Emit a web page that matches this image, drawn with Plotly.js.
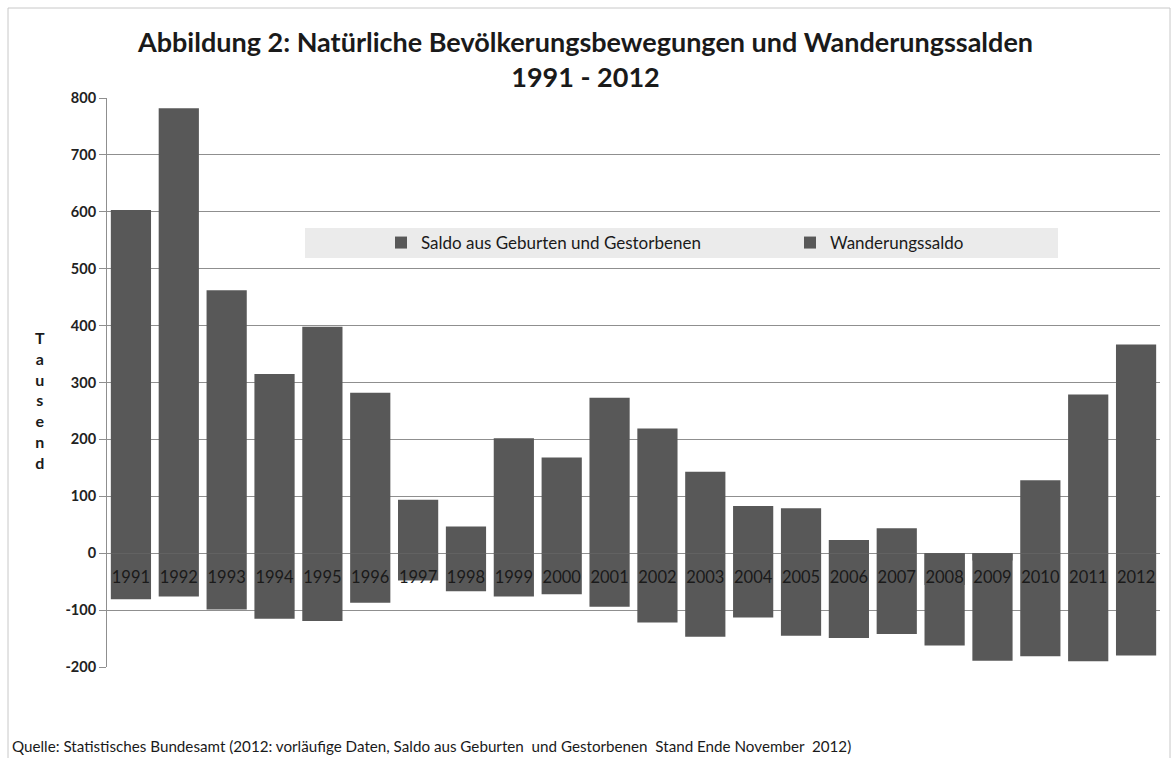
<!DOCTYPE html>
<html>
<head>
<meta charset="utf-8">
<script src="https://cdn.plot.ly/plotly-3.0.1.min.js"></script>
<style>html,body{margin:0;padding:0;background:#fff;}#chart{width:1171px;height:758px;}</style>
</head>
<body>
<div id="chart"></div>
<script>
const years = ["1991","1992","1993","1994","1995","1996","1997","1998","1999","2000","2001","2002","2003","2004","2005","2006","2007","2008","2009","2010","2011","2012"];
const naturalBalance = [-81,-76,-99,-115,-119,-87,-48,-67,-76,-72,-94,-122,-147,-113,-145,-149,-142,-162,-189,-181,-190,-180];
const migrationBalance = [603,782,462,315,398,282,94,47,202,168,273,219,143,83,79,23,44,-56,-13,128,279,367];
const seriesNames = ["Saldo aus Geburten und Gestorbenen","Wanderungssaldo"];
const yTicks = [-200,-100,0,100,200,300,400,500,600,700,800];
const yTickText = yTicks.map(v => String(v));

const barColor = "#585858";
const FONT = "Lato, 'Open Sans', sans-serif";

const traces = [
  {type:"bar", name:seriesNames[0], x:years, y:naturalBalance, marker:{color:barColor}, width:0.84, legend:"legend"},
  {type:"bar", name:seriesNames[1], x:years, y:migrationBalance, marker:{color:barColor}, width:0.84, legend:"legend2"}
];

const legendFont = {family:FONT, size:17, color:"#1a1a1a"};
const PX = (px) => (px-107)/1053;
const PY = (py) => (667-py)/569;

const layout = {
  width:1171, height:758,
  margin:{l:107, r:11, t:98, b:91},
  paper_bgcolor:"#ffffff", plot_bgcolor:"#ffffff",
  barmode:"overlay",
  font:{family:FONT, color:"#222"},
  showlegend:true,
  title:{text:"<b>Abbildung 2: Natürliche Bevölkerungsbewegungen und Wanderungssalden<br>1991 - 2012</b>",
    x:0.5, xanchor:"center", y:0.932, yanchor:"top", font:{family:FONT, size:27, color:"#1a1a1a"}},
  xaxis:{type:"category", anchor:"free", position:0.2, showline:false, showgrid:false, zeroline:false,
    ticks:"outside", ticklen:9, tickcolor:"rgba(0,0,0,0)",
    tickfont:{family:FONT, size:16.5, color:"#1a1a1a"}, fixedrange:true},
  yaxis:{range:[-200,800], tickvals:yTicks, ticktext:yTickText, showgrid:true, gridcolor:"#8f8f8f", gridwidth:1,
    zeroline:true, zerolinecolor:"#8f8f8f", zerolinewidth:1,
    showline:true, linecolor:"#8f8f8f", linewidth:1, ticks:"outside", ticklen:7, tickcolor:"#8f8f8f",
    tickfont:{family:FONT, size:14.5, color:"#222", weight:"bold"}},
  legend:{orientation:"h", x:PX(381), xanchor:"left", y:PY(243), yanchor:"middle",
    bgcolor:"rgba(0,0,0,0)", font:legendFont},
  legend2:{orientation:"h", x:PX(790), xanchor:"left", y:PY(243), yanchor:"middle",
    bgcolor:"rgba(0,0,0,0)", font:legendFont},
  shapes:[
    {type:"rect", xref:"paper", yref:"paper", x0:PX(305), x1:PX(1058), y0:PY(258), y1:PY(228),
      fillcolor:"#ebebeb", line:{width:0}, layer:"below"},
    {type:"rect", xref:"paper", yref:"paper", x0:PX(8), x1:PX(1170), y0:PY(770), y1:PY(8),
      fillcolor:"rgba(0,0,0,0)", line:{width:1, color:"#c8c8c8"}}
  ],
  annotations:[
    {text:"<b>T<br>a<br>u<br>s<br>e<br>n<br>d</b>", xref:"paper", yref:"paper", x:PX(40), y:PY(400),
      xanchor:"center", yanchor:"middle", showarrow:false, font:{family:FONT, size:16, color:"#1a1a1a"}, align:"center"},
    {text:"Quelle: Statistisches Bundesamt (2012: vorläufige Daten, Saldo aus Geburten  und Gestorbenen  Stand Ende November  2012)",
      xref:"paper", yref:"paper", x:PX(10), y:PY(746), xanchor:"left", yanchor:"middle", showarrow:false,
      font:{family:FONT, size:15.2, color:"#1a1a1a"}}
  ]
};

Plotly.newPlot("chart", traces, layout, {displayModeBar:false, staticPlot:true});
</script>
</body>
</html>
